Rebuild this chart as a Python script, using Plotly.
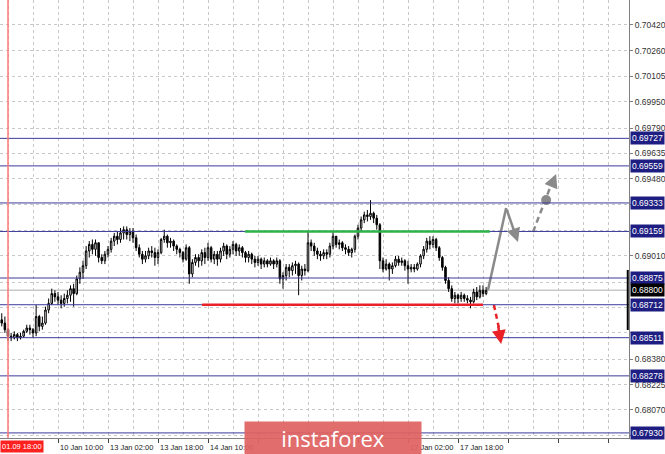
import plotly.graph_objects as go

# ---------------- data ----------------
hours = list(range(-2, 154))  # trading-hour index, 0 = 9 Jan 18:00
close = [0.6860, 0.6856, 0.6852, 0.6851, 0.6853, 0.6851, 0.6852, 0.6855, 0.6857, 0.6856,
         0.6854, 0.6864, 0.6858, 0.6860, 0.6868, 0.6872, 0.6878, 0.6876, 0.6874, 0.6872,
         0.6875, 0.6877, 0.6881, 0.6878, 0.6887, 0.6891, 0.6895, 0.6904, 0.6908, 0.6905,
         0.6909, 0.6900, 0.6898, 0.6902, 0.6905, 0.6910, 0.6913, 0.6911, 0.6915, 0.6917,
         0.6914, 0.6916, 0.6912, 0.6906, 0.6902, 0.6899, 0.6901, 0.6904, 0.6903, 0.6900,
         0.6903, 0.6911, 0.6913, 0.6909, 0.6910, 0.6907, 0.6905, 0.6903, 0.6899, 0.6906,
         0.6890, 0.6897, 0.6900, 0.6898, 0.6903, 0.6900, 0.6906, 0.6899, 0.6902, 0.6899,
         0.6904, 0.6907, 0.6902, 0.6905, 0.6908, 0.6904, 0.6906, 0.6903, 0.6900, 0.6902,
         0.6899, 0.6897, 0.6899, 0.6896, 0.6898, 0.6896, 0.6898, 0.6896, 0.6898, 0.6887,
         0.6889, 0.6894, 0.6892, 0.6895, 0.6896, 0.6889, 0.6893, 0.6892, 0.6909, 0.6907,
         0.6904, 0.6902, 0.6901, 0.6903, 0.6902, 0.6907, 0.6913, 0.6908, 0.6909, 0.6906,
         0.6905, 0.6903, 0.6905, 0.6913, 0.6918, 0.6923, 0.6926, 0.6925, 0.6927, 0.6924,
         0.6920, 0.6898, 0.6893, 0.6896, 0.6893, 0.6895, 0.6899, 0.6897, 0.6898, 0.6895,
         0.6893, 0.6894, 0.6893, 0.6896, 0.6901, 0.6905, 0.6910, 0.6908, 0.6911, 0.6906,
         0.6900, 0.6894, 0.6886, 0.6881, 0.6875, 0.6877, 0.6875, 0.6877, 0.6875, 0.6874,
         0.6873, 0.6879, 0.6876, 0.6880, 0.6878, 0.6880]
high = [0.6866, 0.6864, 0.6857, 0.6854, 0.6855, 0.6854, 0.6854, 0.6856, 0.6859, 0.6859,
        0.6857, 0.6871, 0.6865, 0.6864, 0.6870, 0.6875, 0.6881, 0.6880, 0.6879, 0.6877,
        0.6878, 0.6880, 0.6883, 0.6884, 0.6889, 0.6894, 0.6898, 0.6907, 0.6910, 0.6911,
        0.6911, 0.6909, 0.6902, 0.6904, 0.6907, 0.6912, 0.6915, 0.6916, 0.6918, 0.6919,
        0.6919, 0.6918, 0.6918, 0.6914, 0.6908, 0.6904, 0.6904, 0.6906, 0.6907, 0.6906,
        0.6905, 0.6912, 0.6917, 0.6914, 0.6912, 0.6911, 0.6908, 0.6906, 0.6904, 0.6908,
        0.6907, 0.6899, 0.6902, 0.6902, 0.6905, 0.6906, 0.6909, 0.6907, 0.6904, 0.6904,
        0.6906, 0.6909, 0.6908, 0.6907, 0.6910, 0.6909, 0.6908, 0.6907, 0.6904, 0.6904,
        0.6903, 0.6901, 0.6901, 0.6900, 0.6900, 0.6899, 0.6900, 0.6899, 0.6900, 0.6899,
        0.6891, 0.6896, 0.6896, 0.6897, 0.6898, 0.6897, 0.6895, 0.6896, 0.6916, 0.6911,
        0.6909, 0.6906, 0.6904, 0.6905, 0.6905, 0.6909, 0.6916, 0.6913, 0.6911, 0.6910,
        0.6908, 0.6907, 0.6906, 0.6914, 0.6920, 0.6925, 0.6928, 0.6929, 0.6935, 0.6928,
        0.6926, 0.6921, 0.6900, 0.6899, 0.6897, 0.6897, 0.6901, 0.6901, 0.6900, 0.6899,
        0.6898, 0.6896, 0.6896, 0.6897, 0.6902, 0.6907, 0.6912, 0.6913, 0.6913, 0.6912,
        0.6907, 0.6901, 0.6895, 0.6888, 0.6883, 0.6879, 0.6878, 0.6879, 0.6878, 0.6877,
        0.6876, 0.6881, 0.6882, 0.6883, 0.6883, 0.6882]
low = [0.6858, 0.6854, 0.6849, 0.6849, 0.6850, 0.6849, 0.6850, 0.6851, 0.6854, 0.6853,
       0.6851, 0.6852, 0.6855, 0.6856, 0.6859, 0.6866, 0.6871, 0.6873, 0.6871, 0.6869,
       0.6870, 0.6872, 0.6873, 0.6870, 0.6877, 0.6884, 0.6887, 0.6893, 0.6900, 0.6902,
       0.6901, 0.6897, 0.6896, 0.6896, 0.6900, 0.6903, 0.6907, 0.6908, 0.6909, 0.6911,
       0.6911, 0.6910, 0.6909, 0.6904, 0.6900, 0.6896, 0.6897, 0.6899, 0.6900, 0.6895,
       0.6896, 0.6902, 0.6909, 0.6906, 0.6906, 0.6904, 0.6902, 0.6900, 0.6897, 0.6898,
       0.6884, 0.6888, 0.6895, 0.6894, 0.6895, 0.6896, 0.6898, 0.6897, 0.6896, 0.6895,
       0.6897, 0.6901, 0.6899, 0.6900, 0.6902, 0.6901, 0.6901, 0.6900, 0.6897, 0.6897,
       0.6896, 0.6894, 0.6895, 0.6893, 0.6894, 0.6894, 0.6895, 0.6893, 0.6894, 0.6884,
       0.6881, 0.6886, 0.6888, 0.6889, 0.6890, 0.6877, 0.6886, 0.6889, 0.6891, 0.6904,
       0.6901, 0.6899, 0.6898, 0.6899, 0.6899, 0.6900, 0.6905, 0.6906, 0.6905, 0.6904,
       0.6902, 0.6901, 0.6900, 0.6903, 0.6911, 0.6916, 0.6921, 0.6922, 0.6923, 0.6921,
       0.6917, 0.6893, 0.6891, 0.6892, 0.6886, 0.6890, 0.6894, 0.6895, 0.6895, 0.6892,
       0.6884, 0.6891, 0.6891, 0.6892, 0.6894, 0.6899, 0.6903, 0.6905, 0.6906, 0.6904,
       0.6898, 0.6892, 0.6884, 0.6879, 0.6873, 0.6872, 0.6872, 0.6873, 0.6873, 0.6872,
       0.6869, 0.6872, 0.6874, 0.6875, 0.6876, 0.6877]
first_open = 0.6862
opens = [first_open] + close[:-1]

levels = [0.69727, 0.69559, 0.69333, 0.69159, 0.68875, 0.68712, 0.68511, 0.68278, 0.67930]
current_price = 0.68800
price_ticks = [0.70420, 0.70260, 0.70105, 0.69950, 0.69790, 0.69635, 0.69480, 0.69325, 0.69165,
               0.69010, 0.68850, 0.68695, 0.68540, 0.68380, 0.68225, 0.68070, 0.67915]
# scale labels that sit under a level box in the reference are left blank
price_tick_text = ["0.70420", "0.70260", "0.70105", "0.69950", "0.69790", "0.69635", "0.69480", "", "",
                   "0.69010", "", "", "", "0.68380", "0.68225", "0.68070", ""]
date_ticks = [16, 32, 48, 64, 128, 144]
date_labels = ["10 Jan 10:00", "13 Jan 02:00", "13 Jan 18:00", "14 Jan 10:00",
               "17 Jan 02:00", "17 Jan 18:00"]
grid_ticks = [16, 32, 48, 64, 80, 96, 112, 128, 144, 160, 176, 192]
cursor_hour = 0
cursor_label = "01.09 18:00"

resistance = dict(price=0.69159, start=75.8, end=154.2)
support = dict(price=0.68712, start=62.1, end=152.0)

# forecast sketch (hour, price)
up_leg_h = [153.6, 159.4]
up_leg_p = [0.68802, 0.69302]
pullback_tip = (163.2, 0.69095)
cont_h = [168.0, 174.4]
cont_p = [0.69156, 0.69473]
cont_dot = (172.2, 0.69351)
cont_tip_tail = (174.1, 0.69449)
cont_tip = (175.4, 0.69510)
down_h = [155.5, 157.1]
down_p = [0.68710, 0.68570]
down_tail = (156.8, 0.68589)
down_tip = (157.8, 0.68473)

X_RANGE = [-2.56, 198.72]
Y_RANGE = [0.67899, 0.70571]

GRID = "#c8c8c8"
NAVY = "#1e1e82"
LEVEL_LINE = "#3a3a9c"
FONT = "Liberation Sans"
GREY_ARROW = "#8a8a8a"
RED = "#ea2228"
GREEN = "#2cb34a"

fig = go.Figure()
fig.add_trace(go.Candlestick(
    x=hours, open=opens, high=high, low=low, close=close,
    increasing=dict(line=dict(color="black", width=1), fillcolor="white"),
    decreasing=dict(line=dict(color="black", width=1), fillcolor="black"),
    whiskerwidth=0, hoverinfo="skip", showlegend=False))

# forecast lines
fig.add_trace(go.Scatter(x=up_leg_h, y=up_leg_p, mode="lines",
                         line=dict(color=GREY_ARROW, width=2.5), hoverinfo="skip", showlegend=False))
fig.add_trace(go.Scatter(x=cont_h, y=cont_p, mode="lines",
                         line=dict(color=GREY_ARROW, width=2.5, dash="6px,4px"), hoverinfo="skip", showlegend=False))
fig.add_trace(go.Scatter(x=[cont_dot[0]], y=[cont_dot[1]], mode="markers",
                         marker=dict(color=GREY_ARROW, size=10), hoverinfo="skip", showlegend=False))
fig.add_trace(go.Scatter(x=down_h, y=down_p, mode="lines",
                         line=dict(color=RED, width=2.5, dash="5px,4px"), hoverinfo="skip", showlegend=False))

shapes = []
for lv in levels:
    shapes.append(dict(type="line", xref="paper", x0=0, x1=1, yref="y", y0=lv, y1=lv,
                       line=dict(color=LEVEL_LINE, width=1), layer="above"))
shapes.append(dict(type="line", xref="paper", x0=0, x1=1, yref="y", y0=current_price, y1=current_price,
                   line=dict(color="#c8c8c8", width=1.5), layer="below"))
shapes.append(dict(type="line", xref="x", x0=cursor_hour, x1=cursor_hour, yref="paper", y0=0, y1=1,
                   line=dict(color="#ff7878", width=1.5), layer="above"))
shapes.append(dict(type="line", xref="x", x0=resistance["start"], x1=resistance["end"], yref="y",
                   y0=resistance["price"], y1=resistance["price"], line=dict(color=GREEN, width=2.5)))
shapes.append(dict(type="line", xref="x", x0=support["start"], x1=support["end"], yref="y",
                   y0=support["price"], y1=support["price"], line=dict(color=RED, width=2.5)))
shapes.append(dict(type="line", xref="paper", x0=0.998, x1=0.998, yref="y", y0=0.68924, y1=0.68558,
                   line=dict(color="black", width=2)))

ann = []
# forecast arrowheads
ann.append(dict(x=pullback_tip[0], y=pullback_tip[1], ax=up_leg_h[1], ay=up_leg_p[1],
                xref="x", yref="y", axref="x", ayref="y", text="", showarrow=True,
                arrowhead=2, arrowsize=1.1, arrowwidth=2.5, arrowcolor=GREY_ARROW, standoff=0))
ann.append(dict(x=cont_tip[0], y=cont_tip[1], ax=cont_tip_tail[0], ay=cont_tip_tail[1],
                xref="x", yref="y", axref="x", ayref="y", text="", showarrow=True,
                arrowhead=2, arrowsize=1.1, arrowwidth=2.5, arrowcolor=GREY_ARROW, standoff=0))
ann.append(dict(x=down_tip[0], y=down_tip[1], ax=down_tail[0], ay=down_tail[1],
                xref="x", yref="y", axref="x", ayref="y", text="", showarrow=True,
                arrowhead=2, arrowsize=1.1, arrowwidth=2.5, arrowcolor=RED, standoff=0))

# date labels
for h, lab in zip(date_ticks, date_labels):
    ann.append(dict(x=h, xref="x", y=0, yref="paper", yanchor="top", xanchor="left",
                    xshift=0, yshift=-3, text=lab, showarrow=False,
                    font=dict(family=FONT, size=7.5, color="#222222")))
ann.append(dict(x=0, xref="paper", y=0, yref="paper", yanchor="top", xanchor="left",
                yshift=-2, text=cursor_label, showarrow=False, bgcolor="#ff2020",
                borderpad=1, font=dict(family=FONT, size=7.5, color="white")))

# level boxes on price scale
for lv in levels:
    ann.append(dict(x=1, xref="paper", y=lv, yref="y", xanchor="left", yanchor="middle",
                    xshift=1, text=f"{lv:.5f}", showarrow=False, bgcolor=NAVY, borderpad=1,
                    font=dict(family=FONT, size=8.5, color="white")))
ann.append(dict(x=1, xref="paper", y=current_price, yref="y", xanchor="left", yanchor="middle",
                xshift=1, text=f"{current_price:.5f}", showarrow=False, bgcolor="black", borderpad=1,
                font=dict(family=FONT, size=8.5, color="white")))

# watermark box
ann.append(dict(x=333 / 629, xref="paper", y=0, yref="paper", xanchor="center", yanchor="middle",
                width=176, height=32, text="instaforex", showarrow=False,
                bgcolor="rgba(224,98,98,0.93)", borderpad=0, align="center", valign="middle",
                font=dict(family="Open Sans", size=22, color="white")))

fig.update_layout(
    width=665, height=454,
    margin=dict(l=0, r=36, t=0, b=16),
    paper_bgcolor="white", plot_bgcolor="white",
    showlegend=False,
    shapes=shapes, annotations=ann,
    xaxis=dict(range=X_RANGE, tickvals=grid_ticks, showticklabels=False,
               ticks="outside", ticklen=4, tickcolor="#444444",
               showgrid=True, gridcolor=GRID, griddash="3px,3px", gridwidth=1,
               minor=dict(dtick=8, tick0=0, showgrid=True, gridcolor=GRID, griddash="3px,3px"),
               showline=True, linecolor="#808080", linewidth=1,
               zeroline=False, rangeslider=dict(visible=False), fixedrange=True),
    yaxis=dict(range=Y_RANGE, side="right", tickvals=price_ticks,
               ticktext=price_tick_text,
               tickfont=dict(family=FONT, size=8.5, color="#333333"),
               ticks="outside", ticklen=3, tickcolor="#808080",
               showgrid=True, gridcolor=GRID, griddash="3px,3px",
               showline=True, linecolor="#808080", linewidth=1,
               zeroline=False, fixedrange=True, automargin=False),
)

fig.write_html("out.html", config={"displayModeBar": False},
               post_script="document.body.style.margin='0';document.body.style.overflow='hidden';")
